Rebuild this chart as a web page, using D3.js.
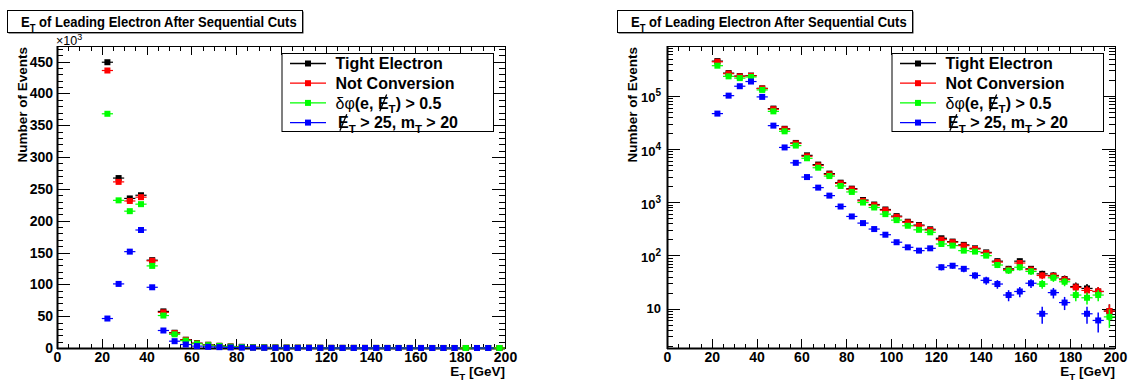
<!DOCTYPE html>
<html>
<head>
<meta charset="utf-8">
<script src="https://cdn.jsdelivr.net/npm/d3@7"></script>
<style>
  body { margin: 0; background: #fff; }
  svg { font-family: "Liberation Sans", Arial, Helvetica, sans-serif; }
  text { white-space: pre; }
</style>
</head>
<body>
<svg id="chart" width="1128" height="381"></svg>
<script>
// bin centres in GeV (5 GeV bins)
var binCenters = [22.5, 27.5, 32.5, 37.5, 42.5, 47.5, 52.5, 57.5, 62.5, 67.5, 72.5, 77.5,
    82.5, 87.5, 92.5, 97.5, 102.5, 107.5, 112.5, 117.5, 122.5, 127.5, 132.5, 137.5,
    142.5, 147.5, 152.5, 157.5, 162.5, 167.5, 172.5, 177.5, 182.5, 187.5, 192.5, 197.5];

var tightElectron = [449000, 267000, 235000, 240000, 138000, 57500, 24000, 13000, 7600, 5100, 3450, 2330,
    1800, 1100, 905, 730, 548, 430, 372, 310, 210, 182, 158, 136,
    114, 78, 56, 78, 56, 45, 42, 36, 26, 24, 21, 9];
var notConversion = [436000, 261000, 231000, 237000, 137000, 56000, 23500, 12700, 7300, 4900, 3340, 2260,
    1750, 1060, 879, 708, 531, 418, 361, 300, 198, 177, 153, 132,
    111, 75, 54, 72, 54, 42, 41, 35, 25, 22, 21, 9];
var dphiCut = [368000, 232000, 215000, 226000, 129000, 51000, 21500, 11600, 6700, 4450, 3100, 2020,
    1560, 986, 796, 597, 461, 361, 303, 272, 164, 153, 123, 118,
    99, 66, 52, 60, 50, 29, 38, 32, 18, 16, 18, 7];
var metMtCut = [46300, 100700, 151400, 185400, 95400, 27500, 10700, 5500, 2970, 1880, 1330, 830,
    540, 405, 313, 245, 177, 142, 123, 136, 60, 64, 56, 42,
    34, 29, 18, 21, 30, 8, 20, 13, 0, 8, 6, 0];

var seriesColors = ["#000000", "#ff0000", "#00ff00", "#0000ff"];
var seriesValues = [tightElectron, notConversion, dphiCut, metMtCut];

var xMajorTicks = [0, 20, 40, 60, 80, 100, 120, 140, 160, 180, 200];
var yLinTicks = [0, 50, 100, 150, 200, 250, 300, 350, 400, 450];   // x10^3
var yLogTicks = [10, 100, 1000, 10000, 100000];

var svg = d3.select("#chart");

// text made of pieces: subscripts, superscripts and slashed letters
function richText(parent, x, y, parts, size, anchor) {
    var t = parent.append("text").attr("x", x).attr("y", y)
        .attr("font-size", size).attr("font-weight", "bold")
        .attr("text-anchor", anchor || "start");
    var shift = 0, nChars = 0, slashed = [];
    parts.forEach(function (p) {
        var s = t.append("tspan").text(p.t);
        var fs = size, target = 0;
        if (p.sub) { fs = size * 0.72; target = size * 0.3; }
        if (p.sup) { fs = size * 0.7; target = -size * 0.42; }
        s.attr("font-size", fs).attr("dy", target - shift);
        shift = target;
        if (p.normal) s.attr("font-weight", "normal");
        if (p.slash) slashed.push(nChars);
        nChars += p.t.length;
    });
    // slash drawn as a stroke over the letter
    slashed.forEach(function (idx) {
        var r = t.node().getExtentOfChar(idx);
        parent.append("line")
            .attr("x1", r.x + r.width * 0.82).attr("y1", y - size * 0.88)
            .attr("x2", r.x + r.width * 0.18).attr("y2", y + size * 0.16)
            .attr("stroke", "#000").attr("stroke-width", 1.3);
    });
    return t;
}

function styleAxis(g, size) {
    g.select(".domain").remove();
    g.selectAll(".tick line").attr("stroke", "#000").attr("shape-rendering", "crispEdges");
    g.selectAll("text").attr("font-size", size).attr("font-weight", "bold")
        .attr("font-family", "Liberation Sans, Arial, sans-serif").attr("fill", "#000");
}

function drawPanel(opts) {
    var x = opts.x, y = opts.y;
    var x0 = x.range()[0], x1 = x.range()[1], yb = y.range()[0], yt = y.range()[1];
    var g = svg.append("g");
    var xMinor = d3.range(0, 201, 5);

    // frame
    g.append("rect").attr("x", x0 + 0.5).attr("y", yt + 0.5)
        .attr("width", x1 - x0).attr("height", yb - yt)
        .attr("fill", "none").attr("stroke", "#000").attr("stroke-width", 1);

    // bottom axis
    var gb = g.append("g").attr("transform", "translate(0," + yb + ")");
    gb.append("g").call(d3.axisBottom(x).tickValues(xMinor).tickSize(-4.5).tickFormat("")).call(styleAxis, 14);
    gb.append("g").call(d3.axisBottom(x).tickValues(xMajorTicks).tickSize(-9).tickPadding(4)
        .tickFormat(d3.format("d"))).call(styleAxis, 14);
    // top axis (ticks only)
    var gt = g.append("g").attr("transform", "translate(0," + yt + ")");
    gt.append("g").call(d3.axisTop(x).tickValues(xMinor).tickSize(-4.5).tickFormat("")).call(styleAxis, 14);
    gt.append("g").call(d3.axisTop(x).tickValues(xMajorTicks).tickSize(-9).tickFormat("")).call(styleAxis, 14);

    // left / right axes
    var gl = g.append("g").attr("transform", "translate(" + x0 + ",0)");
    var gr = g.append("g").attr("transform", "translate(" + x1 + ",0)");
    gl.append("g").call(d3.axisLeft(y).tickValues(opts.yMinor).tickSize(-6.3).tickFormat("")).call(styleAxis, 14);
    gr.append("g").call(d3.axisRight(y).tickValues(opts.yMinor).tickSize(-6.3).tickFormat("")).call(styleAxis, 14);
    gr.append("g").call(d3.axisRight(y).tickValues(opts.yMajor).tickSize(-12.7).tickFormat("")).call(styleAxis, 14);
    var yl = gl.append("g").call(d3.axisLeft(y).tickValues(opts.yMajor).tickSize(-12.7)
        .tickPadding(opts.log ? 6 : 4).tickFormat(d3.format("d"))).call(styleAxis, opts.log ? 13 : 14);

    if (opts.log) {
        yl.selectAll(".tick text").each(function (d) {
            var e = Math.round(Math.log10(d));
            var t = d3.select(this);
            if (e > 1) {
                t.text("10").attr("dy", 6);
                t.append("tspan").attr("font-size", 10).attr("dy", -6).text(e);
            }
        });
    }

    // thicker axis lines on left and bottom
    g.append("line").attr("x1", x0).attr("x2", x1).attr("y1", yb + 0.5).attr("y2", yb + 0.5)
        .attr("stroke", "#000").attr("stroke-width", 2);
    g.append("line").attr("x1", x0 + 0.5).attr("x2", x0 + 0.5).attr("y1", yt).attr("y2", yb + 1)
        .attr("stroke", "#000").attr("stroke-width", 2);

    // data
    seriesValues.forEach(function (vals, i) {
        var pts = binCenters.map(function (c, j) { return { c: c, v: vals[j] }; })
            .filter(function (d) { return d.v > 0; });
        var sg = g.append("g").attr("fill", seriesColors[i]).attr("stroke", seriesColors[i]);
        var yv = function (v) { return y(opts.scaleVal(v)); };
        sg.selectAll("line.h").data(pts).enter().append("line").attr("class", "h")
            .attr("x1", function (d) { return x(d.c - 2.5); })
            .attr("x2", function (d) { return x(d.c + 2.5); })
            .attr("y1", function (d) { return yv(d.v); })
            .attr("y2", function (d) { return yv(d.v); })
            .attr("stroke-width", 1.2);
        sg.selectAll("line.v").data(pts).enter().append("line").attr("class", "v")
            .attr("x1", function (d) { return x(d.c); })
            .attr("x2", function (d) { return x(d.c); })
            .attr("y1", function (d) {
                var lo = opts.scaleVal(d.v - Math.sqrt(d.v));
                return lo > y.domain()[0] ? y(lo) : yb;
            })
            .attr("y2", function (d) { return yv(d.v + Math.sqrt(d.v)); })
            .attr("stroke-width", 1.5);
        sg.selectAll("rect").data(pts).enter().append("rect")
            .attr("x", function (d) { return x(d.c) - 3; })
            .attr("y", function (d) { return yv(d.v) - 3; })
            .attr("width", 6).attr("height", 6).attr("stroke", "none");
    });

    // axis titles
    g.append("text").attr("transform", "translate(" + (x0 - 30) + "," + (yt + 1) + ") rotate(-90)")
        .attr("text-anchor", "end").attr("font-size", 13.5).attr("font-weight", "bold")
        .text("Number of Events");
    richText(g, x1, 375.5, [{ t: "E" }, { t: "T", sub: true }, { t: " [GeV]" }], 13.5, "end");

    // legend
    var lx = opts.legendX, ly = 53.5, lw = 211.5, lh = 78;
    var lg = g.append("g");
    lg.append("rect").attr("x", lx).attr("y", ly).attr("width", lw).attr("height", lh)
        .attr("fill", "#fff").attr("stroke", "#000").attr("stroke-width", 1);
    var labels = [
        [{ t: "Tight Electron" }],
        [{ t: "Not Conversion" }],
        [{ t: "δφ", normal: true }, { t: "(e, " }, { t: "E", slash: true }, { t: "T", sub: true }, { t: ") > 0.5" }],
        [{ t: "E", slash: true }, { t: "T", sub: true }, { t: " > 25, m" }, { t: "T", sub: true }, { t: " > 20" }]
    ];
    labels.forEach(function (parts, i) {
        var cy = ly + 10 + i * 19.7;
        lg.append("line").attr("x1", lx + 8).attr("x2", lx + 44).attr("y1", cy).attr("y2", cy)
            .attr("stroke", seriesColors[i]).attr("stroke-width", 1.3);
        lg.append("rect").attr("x", lx + 23).attr("y", cy - 3).attr("width", 6).attr("height", 6)
            .attr("fill", seriesColors[i]);
        richText(lg, lx + (i === 3 ? 56 : 53.5), cy + 5.7, parts, 16);
    });

    // title box
    var tx = opts.titleX;
    g.append("rect").attr("x", tx + 1.5).attr("y", 11.5).attr("width", 295).attr("height", 22)
        .attr("fill", "#333");
    g.append("rect").attr("x", tx + 0.5).attr("y", 10.5).attr("width", 295).attr("height", 22)
        .attr("fill", "#fff").attr("stroke", "#000").attr("stroke-width", 1);
    var tg = g.append("g");
    var tt = richText(tg, 0, 0, [{ t: "E" }, { t: "T", sub: true }, { t: " of Leading Electron After Sequential Cuts" }], 15);
    var sx = 276 / tt.node().getComputedTextLength();
    tg.attr("transform", "translate(" + (tx + 14) + ",27) scale(" + sx + ",1)");
}

// left: linear scale in units of 10^3
var xL = d3.scaleLinear().domain([0, 200]).range([57, 505]);
var yL = d3.scaleLinear().domain([0, 474.5]).range([348, 46]);
drawPanel({
    x: xL, y: yL, log: false,
    yMajor: yLinTicks, yMinor: d3.range(0, 471, 10),
    scaleVal: function (v) { return v / 1000; },
    legendX: 282, titleX: 7
});
svg.append("text").attr("x", 56).attr("y", 44.5).attr("font-size", 12.5)
    .text("×10").append("tspan").attr("font-size", 9).attr("dy", -5).text("3");

// right: log scale
var xR = d3.scaleLinear().domain([0, 200]).range([667, 1115]);
var yR = d3.scaleLog().domain([1.82, 8.63e5]).range([348, 46]);
var logMinor = yR.ticks().filter(function (d) {
    var e = Math.log10(d);
    return Math.abs(e - Math.round(e)) > 1e-6;
});
drawPanel({
    x: xR, y: yR, log: true,
    yMajor: yLogTicks, yMinor: logMinor,
    scaleVal: function (v) { return v; },
    legendX: 892, titleX: 617
});
</script>
</body>
</html>
